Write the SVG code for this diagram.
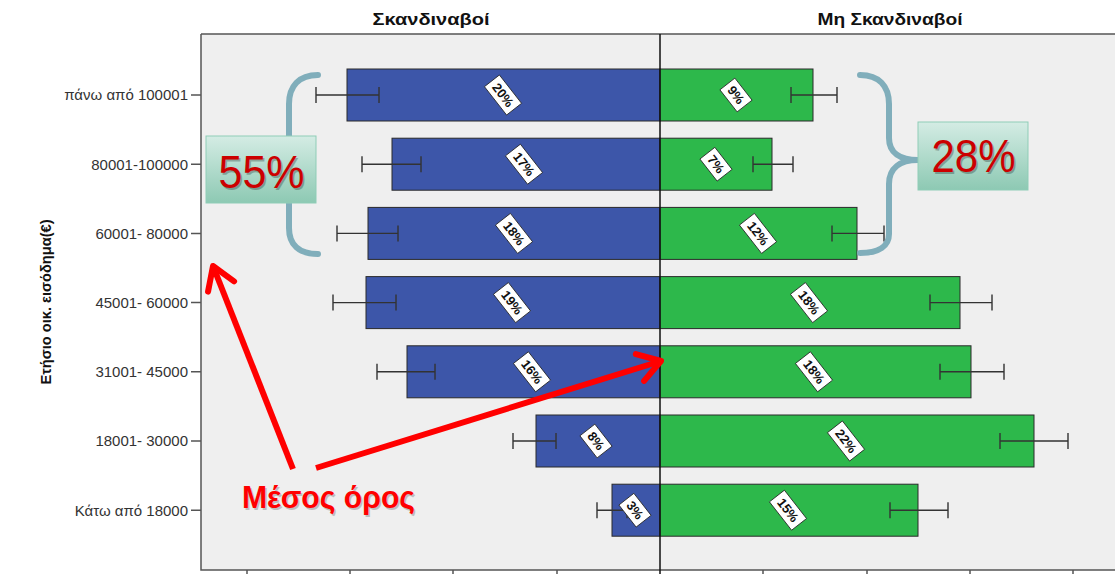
<svg xmlns="http://www.w3.org/2000/svg" width="1115" height="574" viewBox="0 0 1115 574">
<defs>
<style>
.hdr{font-family:"Liberation Sans",Arial,sans-serif;font-weight:bold;font-size:17px;fill:#111;text-anchor:middle}
.tick{font-family:"Liberation Sans",Arial,sans-serif;font-size:15px;fill:#333;text-anchor:end}
.ax{stroke:#555;stroke-width:1.5;fill:none}
.blue{fill:#3d56a9;stroke:#2a2a2a;stroke-width:1}
.green{fill:#2db84b;stroke:#2a2a2a;stroke-width:1}
.err{stroke:#333;stroke-width:1.4;fill:none}
.lbl rect{fill:#fff;stroke:#222;stroke-width:0.8}
.lbl text{font-family:"Liberation Sans",Arial,sans-serif;font-weight:bold;font-size:13px;fill:#111;text-anchor:middle}
.brace{stroke:#80aebb;stroke-width:6;fill:none;stroke-linecap:round}
.box{fill:url(#tg);stroke:#8fcdb7;stroke-width:1}
.big{font-family:"Liberation Sans",Arial,sans-serif;font-size:47px;fill:#cc0000;text-anchor:middle}
.bigsh{font-family:"Liberation Sans",Arial,sans-serif;font-size:47px;fill:#000;opacity:0.25;text-anchor:middle}
.arrow{stroke:#ff0000;stroke-width:6;fill:none}
</style>
<linearGradient id="tg" x1="0" y1="0" x2="0" y2="1">
<stop offset="0" stop-color="#d4ece4"/>
<stop offset="1" stop-color="#8dc9b3"/>
</linearGradient>
<marker id="ah" markerUnits="userSpaceOnUse" viewBox="-30 -20 40 40" refX="0" refY="0" markerWidth="40" markerHeight="40" orient="auto" overflow="visible">
<path d="M-22,-14 L0,0 L-22,14" fill="none" stroke="#ff0000" stroke-width="6" stroke-linecap="round" stroke-linejoin="round"/>
</marker>
</defs>
<rect x="0" y="0" width="1115" height="574" fill="#ffffff"/>
<g id="plot">
<rect x="201" y="34" width="914" height="536" fill="#efefef"/>
<path class="ax" d="M201,34 H1115 M201,34 V570 H1115"/>
<path class="ax" d="M247,570 V574 M350,570 V574 M453,570 V574 M557,570 V574 M763,570 V574 M867,570 V574 M970,570 V574 M1073,570 V574"/>
<path class="ax" d="M191,95 H201 M191,164.2 H201 M191,233.4 H201 M191,302.6 H201 M191,371.8 H201 M191,441 H201 M191,510.2 H201"/>
</g>
<g id="headers">
<text class="hdr" x="431" y="25" textLength="117" lengthAdjust="spacingAndGlyphs">Σκανδιναβοί</text>
<text class="hdr" x="890" y="25" textLength="145" lengthAdjust="spacingAndGlyphs">Μη Σκανδιναβοί</text>
<text x="0" y="0" transform="translate(51,302) rotate(-90)" font-family="Liberation Sans,Arial,sans-serif" font-weight="bold" font-size="14" fill="#111" text-anchor="middle" textLength="165" lengthAdjust="spacingAndGlyphs">Ετήσιο οικ. εισόδημα(€)</text>
</g>
<g id="ticklabels">
<text class="tick" x="188" y="100.4">πάνω από 100001</text>
<text class="tick" x="188" y="169.6">80001-100000</text>
<text class="tick" x="188" y="238.8">60001- 80000</text>
<text class="tick" x="188" y="308">45001- 60000</text>
<text class="tick" x="188" y="377.2">31001- 45000</text>
<text class="tick" x="188" y="446.4">18001- 30000</text>
<text class="tick" x="188" y="515.6">Κάτω από 18000</text>
</g>
<g id="bars">
<rect class="blue" x="347" y="69" width="313" height="52"/>
<rect class="green" x="660" y="69" width="153" height="52"/>
<rect class="blue" x="392" y="138.2" width="268" height="52"/>
<rect class="green" x="660" y="138.2" width="112" height="52"/>
<rect class="blue" x="368" y="207.4" width="292" height="52"/>
<rect class="green" x="660" y="207.4" width="197" height="52"/>
<rect class="blue" x="366" y="276.6" width="294" height="52"/>
<rect class="green" x="660" y="276.6" width="300" height="52"/>
<rect class="blue" x="407" y="345.8" width="253" height="52"/>
<rect class="green" x="660" y="345.8" width="311" height="52"/>
<rect class="blue" x="536" y="415" width="124" height="52"/>
<rect class="green" x="660" y="415" width="374" height="52"/>
<rect class="blue" x="612" y="484.2" width="48" height="52"/>
<rect class="green" x="660" y="484.2" width="258" height="52"/>
</g>
<g id="errorbars">
<path class="err" d="M316,95 H379 M316,87 V103 M379,87 V103"/>
<path class="err" d="M791,95 H837 M791,87 V103 M837,87 V103"/>
<path class="err" d="M362,164.2 H421 M362,156.2 V172.2 M421,156.2 V172.2"/>
<path class="err" d="M753,164.2 H793 M753,156.2 V172.2 M793,156.2 V172.2"/>
<path class="err" d="M337,233.4 H398 M337,225.4 V241.4 M398,225.4 V241.4"/>
<path class="err" d="M832,233.4 H884 M832,225.4 V241.4 M884,225.4 V241.4"/>
<path class="err" d="M333,302.6 H396 M333,294.6 V310.6 M396,294.6 V310.6"/>
<path class="err" d="M930,302.6 H992 M930,294.6 V310.6 M992,294.6 V310.6"/>
<path class="err" d="M377,371.8 H435 M377,363.8 V379.8 M435,363.8 V379.8"/>
<path class="err" d="M940,371.8 H1004 M940,363.8 V379.8 M1004,363.8 V379.8"/>
<path class="err" d="M513,441 H556 M513,433 V449 M556,433 V449"/>
<path class="err" d="M1000,441 H1068 M1000,433 V449 M1068,433 V449"/>
<path class="err" d="M597,510.2 H627 M597,502.2 V518.2 M627,502.2 V518.2"/>
<path class="err" d="M890,510.2 H948 M890,502.2 V518.2 M948,502.2 V518.2"/>
</g>
<line x1="660" y1="34" x2="660" y2="574" stroke="#111" stroke-width="1.5"/>
<g id="labels">
<g class="lbl" transform="translate(503,95) rotate(52)"><rect x="-18" y="-9.5" width="36" height="19"/><text y="4.5">20%</text></g>
<g class="lbl" transform="translate(736,95) rotate(52)"><rect x="-14" y="-9.5" width="28" height="19"/><text y="4.5">9%</text></g>
<g class="lbl" transform="translate(524,164.2) rotate(52)"><rect x="-18" y="-9.5" width="36" height="19"/><text y="4.5">17%</text></g>
<g class="lbl" transform="translate(716,164.2) rotate(52)"><rect x="-14" y="-9.5" width="28" height="19"/><text y="4.5">7%</text></g>
<g class="lbl" transform="translate(514,233.4) rotate(52)"><rect x="-18" y="-9.5" width="36" height="19"/><text y="4.5">18%</text></g>
<g class="lbl" transform="translate(758,233.4) rotate(52)"><rect x="-18" y="-9.5" width="36" height="19"/><text y="4.5">12%</text></g>
<g class="lbl" transform="translate(512,302.6) rotate(52)"><rect x="-18" y="-9.5" width="36" height="19"/><text y="4.5">19%</text></g>
<g class="lbl" transform="translate(809,302.6) rotate(52)"><rect x="-18" y="-9.5" width="36" height="19"/><text y="4.5">18%</text></g>
<g class="lbl" transform="translate(532,371.8) rotate(52)"><rect x="-18" y="-9.5" width="36" height="19"/><text y="4.5">16%</text></g>
<g class="lbl" transform="translate(814,371.8) rotate(52)"><rect x="-18" y="-9.5" width="36" height="19"/><text y="4.5">18%</text></g>
<g class="lbl" transform="translate(596,441) rotate(52)"><rect x="-14" y="-9.5" width="28" height="19"/><text y="4.5">8%</text></g>
<g class="lbl" transform="translate(846,441) rotate(52)"><rect x="-18" y="-9.5" width="36" height="19"/><text y="4.5">22%</text></g>
<g class="lbl" transform="translate(635,510.2) rotate(52)"><rect x="-14" y="-9.5" width="28" height="19"/><text y="4.5">3%</text></g>
<g class="lbl" transform="translate(788,510.2) rotate(52)"><rect x="-18" y="-9.5" width="36" height="19"/><text y="4.5">15%</text></g>
</g>
<g id="braces">
<path class="brace" d="M318,75 C299,75 289,86 289,104 L289,228 C289,245 299,254 318,254"/>
<path class="brace" d="M860,75 C879,75 889,86 889,104 L889,138 C889,153 900,160 918,160 C900,160 889,168 889,184 L889,234 C889,246 879,253 860,253"/>
</g>
<g id="box55">
<rect class="box" x="206" y="136" width="110" height="67"/>
<text class="bigsh" x="263" y="190" textLength="86" lengthAdjust="spacingAndGlyphs">55%</text>
<text class="big" x="261.5" y="188" textLength="86" lengthAdjust="spacingAndGlyphs">55%</text>
</g>
<g id="box28">
<rect class="box" x="918" y="122" width="110" height="68"/>
<text class="bigsh" x="975" y="174" textLength="84" lengthAdjust="spacingAndGlyphs">28%</text>
<text class="big" x="973.5" y="172" textLength="84" lengthAdjust="spacingAndGlyphs">28%</text>
</g>
<g id="connectors">
<line class="arrow" x1="293" y1="469" x2="213" y2="266" marker-end="url(#ah)"/>
<line class="arrow" x1="316" y1="468" x2="661" y2="361" marker-end="url(#ah)"/>
</g>
<g id="mean-label">
<text x="243.5" y="510" font-family="Liberation Sans,Arial,sans-serif" font-weight="bold" font-size="31" fill="#000" opacity="0.2" textLength="173" lengthAdjust="spacingAndGlyphs">Μέσος όρος</text>
<text x="242" y="508" font-family="Liberation Sans,Arial,sans-serif" font-weight="bold" font-size="31" fill="#ff0000" textLength="173" lengthAdjust="spacingAndGlyphs">Μέσος όρος</text>
</g>
</svg>
